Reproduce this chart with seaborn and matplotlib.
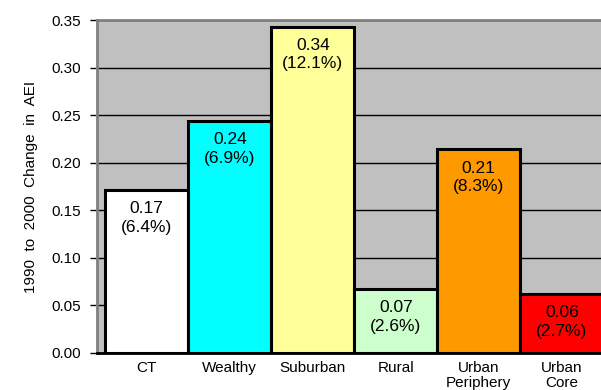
import matplotlib
matplotlib.use("Agg")
import matplotlib.pyplot as plt
import seaborn as sns
import pandas as pd

# AEI change 1990-2000 by town group
categories = ["CT", "Wealthy", "Suburban", "Rural", "Urban\nPeriphery", "Urban\nCore"]
aei_change = [0.171, 0.244, 0.343, 0.067, 0.214, 0.062]
pct_change = [6.4, 6.9, 12.1, 2.6, 8.3, 2.7]
bar_colors = ["#FFFFFF", "#00FFFF", "#FFFF99", "#CCFFCC", "#FF9900", "#FF0000"]
y_ticks = [0.00, 0.05, 0.10, 0.15, 0.20, 0.25, 0.30, 0.35]

sns.set_style("white")
plt.rcParams["font.family"] = ["Liberation Sans", "DejaVu Sans"]
plt.rcParams.update({"text.color": "black", "axes.labelcolor": "black",
                     "xtick.color": "black", "ytick.color": "black"})

df = pd.DataFrame({"group": categories, "change": aei_change})

fig = plt.figure(figsize=(6.01, 3.90), dpi=100)
ax = fig.add_axes([97 / 601, 37 / 390, 514.6 / 601, 333 / 390])
ax.set_facecolor("#C0C0C0")

sns.barplot(data=df, x="group", y="change", hue="group", palette=bar_colors,
            order=categories, hue_order=categories, width=1.0, legend=False,
            edgecolor="black", linewidth=2.2, saturation=1, ax=ax, zorder=3)

ax.set_xlim(-0.6, 5.6)
ax.set_ylim(0, 0.35)
ax.set_yticks(y_ticks)
ax.set_yticklabels([f"{t:.2f}" for t in y_ticks], fontsize=11)
ax.yaxis.grid(True, color="black", linewidth=1.0)
ax.set_axisbelow(True)

ax.tick_params(axis="y", direction="out", length=5, width=1, color="black", pad=6.5,
               left=True)
ax.tick_params(axis="x", length=0, pad=5.5, labelsize=11)
for lbl in ax.get_xticklabels():
    lbl.set_linespacing(1.15)

ax.set_xlabel("")
ax.set_ylabel("1990  to  2000  Change  in  AEI", fontsize=11, labelpad=10)

for side in ["left", "top"]:
    ax.spines[side].set_color("#808080")
    ax.spines[side].set_linewidth(2)
ax.spines["bottom"].set_color("black")
ax.spines["bottom"].set_linewidth(2)
ax.spines["right"].set_visible(False)

for i, (v, p) in enumerate(zip(aei_change, pct_change)):
    ax.annotate(f"{v:.2f}\n({p:.1f}%)", xy=(i, v), xytext=(0, -8),
                textcoords="offset points", ha="center", va="top",
                fontsize=12.5, linespacing=1.3, zorder=5)

fig.savefig("out.png", dpi=100)
